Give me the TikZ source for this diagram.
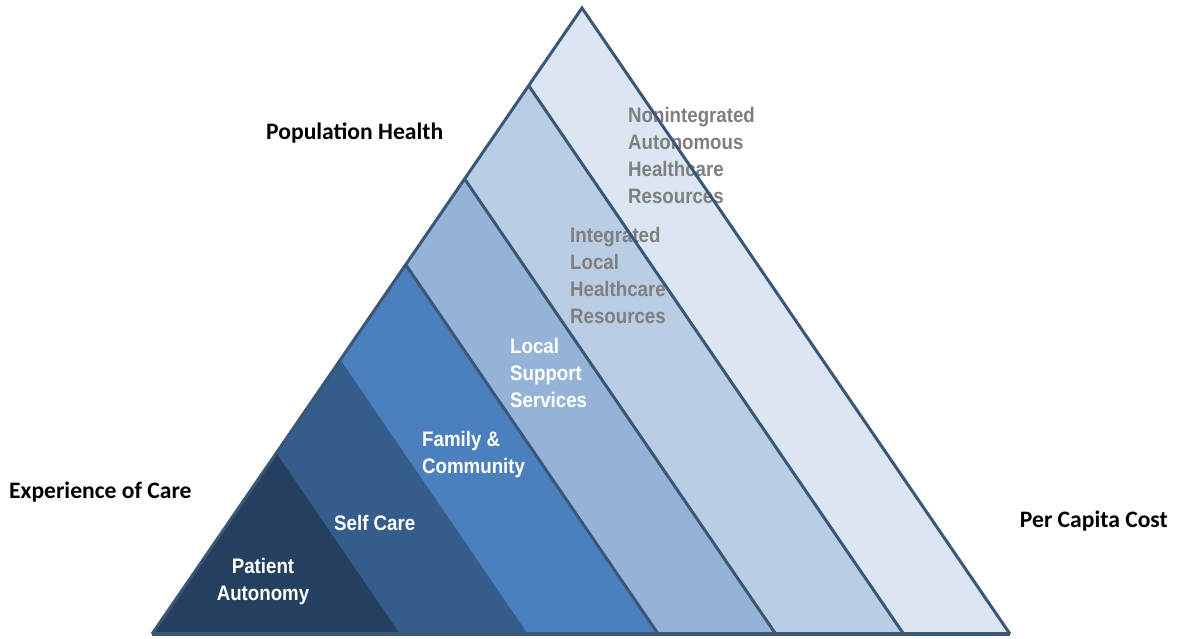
\documentclass[tikz,border=0pt]{standalone}
\usepackage{fontspec}
\usetikzlibrary{calc}
\newfontfamily\sidefont{Carlito}
\newfontfamily\bandfont[FakeStretch=0.89]{Liberation Sans}
\definecolor{rim}{HTML}{3B5778}
\definecolor{bandA}{HTML}{253F5E}
\definecolor{bandB}{HTML}{355D8B}
\definecolor{bandC}{HTML}{4C7FBD}
\definecolor{bandD}{HTML}{95B3D7}
\definecolor{bandE}{HTML}{B9CDE5}
\definecolor{bandF}{HTML}{DCE6F2}
\definecolor{greytext}{HTML}{7F7F7F}
\tikzset{
  side/.style={font=\sidefont\bfseries\fontsize{23.6}{28}\selectfont, inner sep=0, anchor=base west},
  light/.style={font=\bandfont\bfseries\fontsize{21}{27}\selectfont, text=white, inner sep=0, align=left, anchor=base west},
  dim/.style={light, text=greytext},
  divider/.style={draw=rim, line width=3pt}
}

\begin{document}
\begin{tikzpicture}[x=1pt, y=-1pt]
	\useasboundingbox (0,0) rectangle (1177,638);
	\coordinate (bl) at (152,634);
	\coordinate (br) at (1010,634);
	\coordinate (top) at (582,8);
	% bands, biggest first
	\foreach \s/\c in {1/bandF, 0.876/bandE, 0.727/bandD, 0.590/bandC, 0.438/bandB, 0.289/bandA}
		\fill[\c] (bl) -- ($(bl)!\s!(top)$) -- ($(bl)!\s!(br)$) -- cycle;
	% labels inside (placed at the last line's baseline)
	\node[light, align=center, anchor=base] (auto) at (263,600) {Patient\\Autonomy};
	\node[light] (self) at (334,530) {Self Care};
	\node[light] (fam) at (422,473) {Family \&\\Community};
	\node[light] (supp) at (510,407) {Local\\Support\\Services};
	\node[dim] (integ) at (570,323) {Integrated\\Local\\Healthcare\\Resources};
	\node[dim] (nonint) at (628,203) {Nonintegrated\\Autonomous\\Healthcare\\Resources};
	% lines between the light bands
	\foreach \s in {0.590, 0.727, 0.876}
		\draw[divider] ($(bl)!\s!(top)$) -- ($(bl)!\s!(br)$);
	\draw[rim, line width=3pt, line join=miter] (bl) -- (top) -- (br);
	\draw[rim, line width=4pt] (bl) -- (br);
	% labels outside
	\node[side] (pop) at (266,139) {Population Health};
	\node[side] (exp) at (9,498) {Experience of Care};
	\node[side, anchor=base east] (cost) at (1168,527) {Per Capita Cost};
\end{tikzpicture}
\end{document}
